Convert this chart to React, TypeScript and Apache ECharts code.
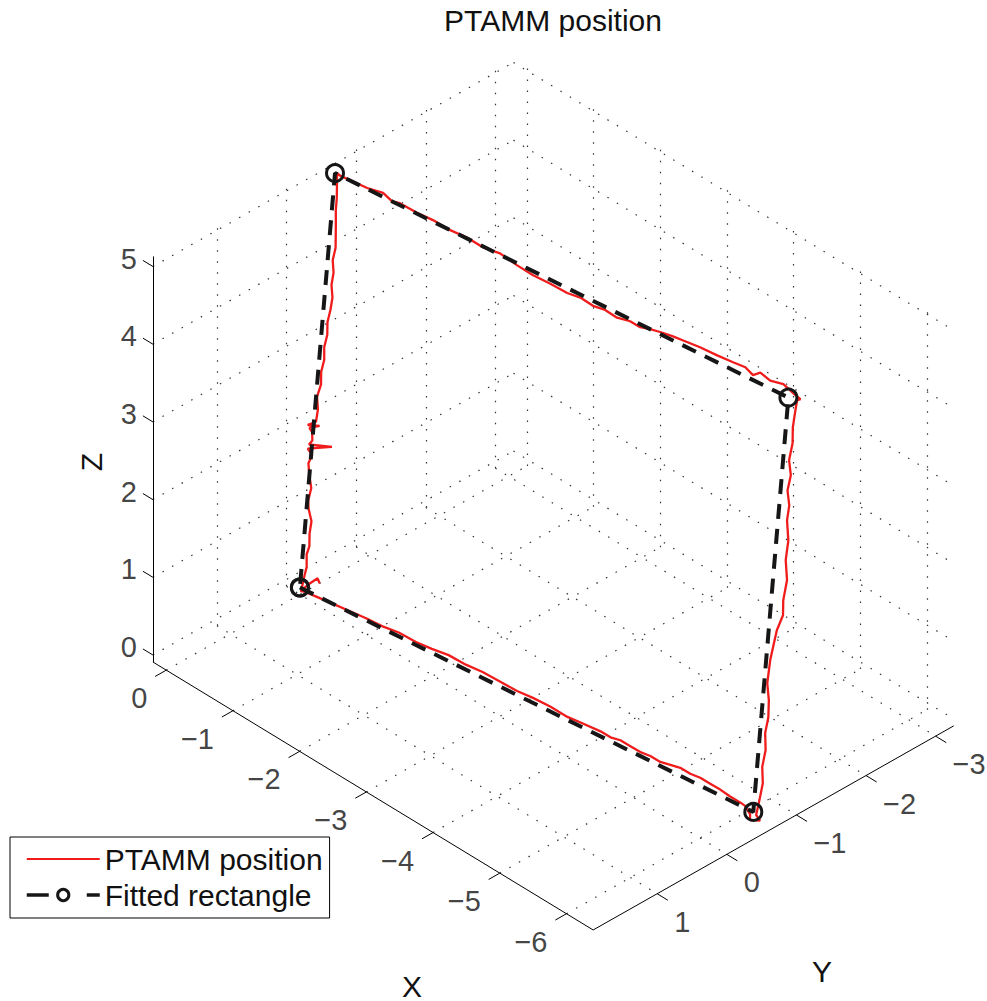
import React, { useEffect, useRef } from 'react';
import * as echarts from 'echarts';

const W = 987;
const H = 1001;
const FONT = '"Liberation Sans", Arial, Helvetica, sans-serif';

// axis limits (x, y, z) and ticks
const xLim = [-6.4, 0.2];
const yLim = [-3.26, 1.92];
const zLim = [-0.09, 5.13];
const xTicks = [0, -1, -2, -3, -4, -5, -6];
const yTicks = [1, 0, -1, -2, -3];
const zTicks = [0, 1, 2, 3, 4, 5];

// fitted rectangle corners (A, B, C, D, back to A)
const rectX = [0, -6.14, -6.083, 0.057, 0];
const rectY = [0, -0.63, -1.189, -0.559, 0];
const rectZ = [0, 0, 5.02, 5.02, 0];

// PTAMM position trajectory, leg 1 (A -> D)
const leg1X = [-0.015, -0.021, -0.034, -0.024, -0.038, -0.03, -0.035, -0.004, 0.005, -0.008, 0.015, 0.032, 0.011, 0.048, -0.128, 0.042, 0.02, 0.028, 0.051, -0.022, 0.066, 0.008, 0.003, 0.019, -0.001, 0.008, -0.006, 0.004, -0.009, -0.001, -0.013, -0.019, -0.002, -0.008, 0.008, -0.004, 0.004, 0.013, 0.023, 0.025, 0.033, 0.042];
const leg1Y = [-0.015, -0.033, -0.065, -0.074, -0.1, -0.11, -0.133, -0.121, -0.124, -0.156, -0.151, -0.153, -0.186, -0.158, -0.337, -0.171, -0.198, -0.203, -0.186, -0.262, -0.175, -0.239, -0.262, -0.264, -0.303, -0.313, -0.344, -0.353, -0.385, -0.395, -0.426, -0.45, -0.452, -0.476, -0.479, -0.509, -0.519, -0.529, -0.538, -0.554, -0.564, -0.574];
const leg1Z = [0, 0.1, 0.251, 0.402, 0.502, 0.653, 0.803, 0.954, 1.054, 1.205, 1.355, 1.506, 1.606, 1.682, 1.707, 1.732, 1.782, 1.883, 1.933, 1.958, 1.968, 2.008, 2.159, 2.309, 2.46, 2.61, 2.761, 2.912, 3.062, 3.213, 3.363, 3.514, 3.665, 3.815, 3.966, 4.116, 4.267, 4.418, 4.568, 4.719, 4.869, 5.02];

// leg 2 (D -> C)
const leg2X = [-0.011, -0.379, -0.594, -0.717, -0.821, -1.054, -1.269, -1.503, -1.73, -1.951, -2.178, -2.411, -2.626, -2.853, -3.087, -3.265, -3.437, -3.602, -3.762, -3.94, -4.075, -4.21, -4.345, -4.511, -4.659, -4.886, -5.119, -5.334, -5.5, -5.604, -5.702, -5.837, -6.015, -6.175, -6.2];
const leg2Y = [-0.566, -0.604, -0.626, -0.638, -0.649, -0.673, -0.695, -0.719, -0.742, -0.765, -0.788, -0.812, -0.834, -0.858, -0.882, -0.9, -0.917, -0.934, -0.951, -0.969, -0.983, -0.997, -1.011, -1.028, -1.043, -1.066, -1.09, -1.112, -1.129, -1.14, -1.15, -1.164, -1.182, -1.198, -1.25];
const leg2Z = [5.02, 5.033, 5.071, 5.02, 5.046, 5.033, 5.039, 5.02, 5.033, 5.007, 5.039, 4.994, 4.969, 4.969, 4.956, 4.981, 4.956, 4.981, 4.956, 4.994, 4.981, 5.02, 5.046, 5.071, 5.084, 5.104, 5.11, 5.123, 5.136, 5.084, 5.162, 5.123, 5.162, 5.097, 5.03];

// leg 3 (C -> B)
const leg3X = [-6.149, -6.144, -6.138, -6.149, -6.136, -6.16, -6.147, -6.172, -6.167, -6.192, -6.188, -6.212, -6.2, -6.21, -6.176, -6.163, -6.15, -6.146, -6.171, -6.18, -6.169, -6.185, -6.173, -6.19, -6.178, -6.165, -6.2, -6.1];
const leg3Y = [-1.251, -1.231, -1.2, -1.186, -1.148, -1.15, -1.115, -1.116, -1.089, -1.084, -1.05, -1.046, -1.003, -0.99, -0.934, -0.899, -0.864, -0.825, -0.824, -0.808, -0.773, -0.764, -0.727, -0.719, -0.682, -0.647, -0.67, -0.62];
const leg3Z = [4.987, 4.864, 4.659, 4.468, 4.262, 4.081, 3.896, 3.715, 3.534, 3.293, 3.052, 2.811, 2.565, 2.385, 2.204, 2.023, 1.842, 1.561, 1.355, 1.15, 0.959, 0.753, 0.547, 0.351, 0.146, -0.035, -0.1, -0.12];

// leg 4 (B -> A, then a short hook)
const leg4X = [-6.097, -6.029, -5.962, -5.827, -5.692, -5.557, -5.422, -5.287, -5.151, -5.016, -4.881, -4.746, -4.611, -4.476, -4.341, -4.206, -4.071, -3.801, -3.623, -3.389, -3.156, -2.941, -2.708, -2.474, -2.247, -2.014, -1.787, -1.572, -1.339, -1.111, -0.896, -0.663, -0.436, -0.221, -0.055, -0.02, -0.08, -0.13, -0.15];
const leg4Y = [-0.626, -0.619, -0.612, -0.598, -0.584, -0.57, -0.556, -0.542, -0.529, -0.515, -0.501, -0.487, -0.473, -0.459, -0.445, -0.432, -0.418, -0.39, -0.372, -0.348, -0.324, -0.302, -0.278, -0.254, -0.231, -0.207, -0.183, -0.161, -0.137, -0.114, -0.092, -0.068, -0.045, -0.023, -0.006, 0.01, -0.06, -0.13, -0.14];
const leg4Z = [-0.051, 0.026, 0.039, 0.051, 0.077, 0.09, 0.103, 0.09, 0.103, 0.077, 0.051, 0.064, 0.051, 0.064, 0.077, 0.051, 0.064, 0.051, 0.039, 0.064, 0.064, 0.051, 0.064, 0.077, 0.064, 0.077, 0.051, 0.039, 0.051, 0.026, 0.026, 0.013, 0, -0.013, -0.026, -0.03, 0.06, 0.12, 0.06];

// view: orthographic projection of the 3-D box onto the page
const ORIGIN = [299.9, 587.5];
const EX = [-66.7, -40.6];
const EY = [-69.6, 39.4];
const EZ = [0, -77.7];

function proj(x: number, y: number, z: number): number[] {
  return [
    ORIGIN[0] + x * EX[0] + y * EY[0] + z * EZ[0],
    ORIGIN[1] + x * EX[1] + y * EY[1] + z * EZ[1],
  ];
}

function fmt(v: number): string {
  return v < 0 ? '\u2212' + Math.abs(v) : String(v);
}

function buildOption() {
  const [xmin, xmax] = xLim;
  const [ymin, ymax] = yLim;
  const [zmin, zmax] = zLim;

  const gridSegs: any[] = [];
  const seg = (a: number[], b: number[]) => gridSegs.push({ coords: [a, b] });
  zTicks.forEach((z) => seg(proj(xmax, ymax, z), proj(xmax, ymin, z)));
  yTicks.forEach((y) => seg(proj(xmax, y, zmin), proj(xmax, y, zmax)));
  zTicks.forEach((z) => seg(proj(xmax, ymin, z), proj(xmin, ymin, z)));
  xTicks.forEach((x) => seg(proj(x, ymin, zmin), proj(x, ymin, zmax)));
  xTicks.forEach((x) => seg(proj(x, ymax, zmin), proj(x, ymin, zmin)));
  yTicks.forEach((y) => seg(proj(xmax, y, zmin), proj(xmin, y, zmin)));

  const axisSegs: any[] = [
    { coords: [proj(xmax, ymax, zmin), proj(xmax, ymax, zmax)] },
    { coords: [proj(xmax, ymax, zmin), proj(xmin, ymax, zmin)] },
    { coords: [proj(xmin, ymax, zmin), proj(xmin, ymin, zmin)] },
  ];
  zTicks.forEach((z) => axisSegs.push({ coords: [proj(xmax, ymax, z), proj(xmax + 0.15, ymax, z)] }));
  xTicks.forEach((x) => axisSegs.push({ coords: [proj(x, ymax, zmin), proj(x, ymax + 0.16, zmin)] }));
  yTicks.forEach((y) => axisSegs.push({ coords: [proj(xmin, y, zmin), proj(xmin - 0.16, y, zmin)] }));

  const labelBase = {
    show: true,
    position: 'inside',
    verticalAlign: 'middle',
    fontSize: 29,
    fontFamily: FONT,
    color: '#111',
  };
  const hiddenSym = { symbolSize: 1, itemStyle: { color: 'rgba(0,0,0,0)' }, silent: true };

  const path: number[][] = [];
  const legs = [
    [leg1X, leg1Y, leg1Z],
    [leg2X, leg2Y, leg2Z],
    [leg3X, leg3Y, leg3Z],
    [leg4X, leg4Y, leg4Z],
  ];
  legs.forEach(([lx, ly, lz]) => lx.forEach((v, i) => path.push(proj(v, ly[i], lz[i]))));

  const rect = rectX.map((v, i) => proj(v, rectY[i], rectZ[i]));

  const textStyle = { fill: '#111', fontSize: 30, fontFamily: FONT, align: 'center', verticalAlign: 'middle' };

  return {
    animation: false,
    grid: { left: 0, right: 0, top: 0, bottom: 0 },
    xAxis: { type: 'value', min: 0, max: W, show: false },
    yAxis: { type: 'value', min: 0, max: H, inverse: true, show: false },
    legend: {
      orient: 'vertical',
      left: 10,
      top: 837,
      data: [
        {
          name: 'PTAMM position',
          itemStyle: { color: 'rgba(0,0,0,0)', borderColor: 'rgba(0,0,0,0)', borderWidth: 0 },
          lineStyle: { color: '#f01c1c', width: 2 },
        },
        {
          name: 'Fitted rectangle',
          itemStyle: { color: 'rgba(0,0,0,0)', borderColor: '#161616', borderWidth: 3 },
          lineStyle: { color: '#161616', width: 3.5, type: [22, 38] },
        },
      ],
      backgroundColor: '#fff',
      borderColor: '#000',
      borderWidth: 1,
      borderRadius: 0,
      padding: [7, 7, 8, 15],
      itemWidth: 73,
      itemHeight: 14,
      itemGap: 6,
      selectedMode: false,
      textStyle: { fontSize: 30, fontFamily: FONT, color: '#111', lineHeight: 30 },
    },
    graphic: [
      { type: 'text', x: 553, y: 20, style: { ...textStyle, text: 'PTAMM position' } },
      { type: 'text', x: 412, y: 986, style: { ...textStyle, text: 'X' } },
      { type: 'text', x: 822, y: 971, style: { ...textStyle, text: 'Y' } },
      { type: 'text', x: 91, y: 462, rotation: Math.PI / 2, style: { ...textStyle, text: 'Z' } },
    ],
    series: [
      {
        type: 'lines',
        coordinateSystem: 'cartesian2d',
        silent: true,
        data: gridSegs,
        lineStyle: { color: '#333', width: 1.2, type: [1.5, 9.5], opacity: 1 },
        z: 1,
      },
      {
        type: 'lines',
        coordinateSystem: 'cartesian2d',
        silent: true,
        data: axisSegs,
        lineStyle: { color: '#000', width: 1, type: 'solid', opacity: 1 },
        z: 2,
      },
      {
        type: 'scatter',
        ...hiddenSym,
        data: zTicks.map((z) => ({ value: proj(xmax, ymax, z), label: { formatter: fmt(z) } })),
        label: { ...labelBase, align: 'right', offset: [-16, -8] },
        z: 3,
      },
      {
        type: 'scatter',
        ...hiddenSym,
        data: xTicks.map((x) => ({ value: proj(x, ymax, zmin), label: { formatter: fmt(x) } })),
        label: { ...labelBase, align: 'right', offset: [-19, 28] },
        z: 3,
      },
      {
        type: 'scatter',
        ...hiddenSym,
        data: yTicks.map((y) => ({ value: proj(xmin, y, zmin), label: { formatter: fmt(y) } })),
        label: { ...labelBase, align: 'left', offset: [17, 28] },
        z: 3,
      },
      {
        name: 'PTAMM position',
        type: 'line',
        data: path,
        symbol: 'none',
        silent: true,
        itemStyle: { color: '#f01c1c' },
        lineStyle: { color: '#f01c1c', width: 2.3 },
        z: 4,
      },
      {
        name: 'Fitted rectangle',
        type: 'line',
        data: rect,
        symbol: 'circle',
        symbolSize: 17,
        showSymbol: true,
        silent: true,
        itemStyle: { color: 'rgba(0,0,0,0)', borderColor: '#161616', borderWidth: 3 },
        lineStyle: { color: '#161616', width: 4, type: [15, 10] },
        z: 5,
      },
    ],
  };
}

export default function App() {
  const ref = useRef<HTMLDivElement>(null);
  useEffect(() => {
    document.body.style.margin = '0';
    const chart = echarts.init(ref.current as HTMLDivElement, undefined, { renderer: 'svg' });
    chart.setOption(buildOption() as any);
    return () => chart.dispose();
  }, []);
  return <div ref={ref} style={{ width: W, height: H, background: '#fff' }} />;
}
